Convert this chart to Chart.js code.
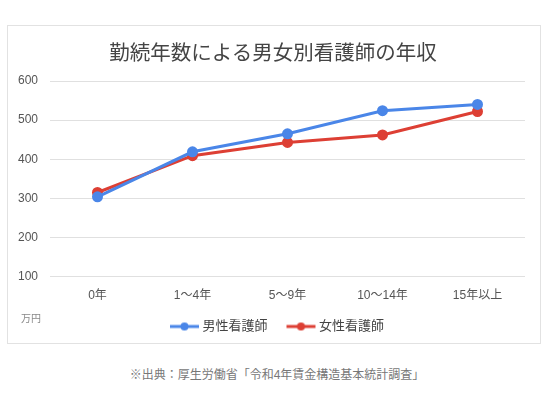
<!DOCTYPE html>
<html lang="ja">
<head>
<meta charset="utf-8">
<script src="https://cdn.jsdelivr.net/npm/chart.js@4"></script>
<style>
  body { margin: 0; background: #fff; font-family: "Liberation Sans", "Noto Sans CJK JP", sans-serif; }
  #card { position: absolute; left: 7px; top: 25px; width: 532px; height: 317px; border: 1px solid #e2e2e2; }
  #wrap { position: absolute; left: 0; top: 0; width: 532px; height: 317px; }
  #title { position: absolute; left: 0; width: 530px; top: 10px; text-align: center; font-size: 20.5px; color: #444; }
  #unit { position: absolute; left: 13px; top: 284px; font-size: 10px; color: #888; }
  #source { position: absolute; left: 0; width: 554px; top: 365px; text-align: center; font-size: 12px; color: #777; }
</style>
</head>
<body>
<div id="card">
  <div id="wrap"><canvas id="chart"></canvas></div>
  <div id="title">勤続年数による男女別看護師の年収</div>
  <div id="unit">万円</div>
</div>
<div id="source">※出典：厚生労働省「令和4年賃金構造基本統計調査」</div>
<script>
const categories = ["0年", "1〜4年", "5〜9年", "10〜14年", "15年以上"];
const maleValues = [304, 419, 465, 524, 540];
const femaleValues = [315, 409, 443, 462, 522];
const yTicks = [100, 200, 300, 400, 500, 600];

const blue = "#4a86e8";
const red = "#dd3f34";

// legend marker: short line with a dot, drawn toward the right of the image
function legendMarker(color) {
  const c = document.createElement("canvas");
  c.width = 52;
  c.height = 10;
  const g = c.getContext("2d");
  g.strokeStyle = color;
  g.lineWidth = 3;
  g.beginPath();
  g.moveTo(20, 5);
  g.lineTo(49, 5);
  g.stroke();
  g.fillStyle = color;
  g.beginPath();
  g.arc(34.5, 5, 4, 0, Math.PI * 2);
  g.fill();
  return c;
}

const markers = [legendMarker(blue), legendMarker(red)];
const fontFamily = "'Liberation Sans', 'Noto Sans CJK JP', sans-serif";

new Chart(document.getElementById("chart"), {
  type: "line",
  data: {
    labels: categories,
    datasets: [
      {
        label: "男性看護師",
        data: maleValues,
        borderColor: blue,
        backgroundColor: blue,
        borderWidth: 3,
        pointRadius: 4,
        pointHoverRadius: 4,
        tension: 0
      },
      {
        label: "女性看護師",
        data: femaleValues,
        borderColor: red,
        backgroundColor: red,
        borderWidth: 3,
        pointRadius: 4,
        pointHoverRadius: 4,
        tension: 0
      }
    ]
  },
  options: {
    responsive: true,
    maintainAspectRatio: false,
    animation: false,
    layout: { padding: { top: 55, left: 7, right: 15, bottom: 0 } },
    plugins: {
      title: { display: false },
      tooltip: { enabled: false },
      legend: {
        position: "bottom",
        labels: {
          usePointStyle: true,
          pointStyleWidth: 40,
          padding: 5,
          color: "#444",
          font: { size: 13, family: fontFamily },
          generateLabels: (chart) => {
            const items = Chart.defaults.plugins.legend.labels.generateLabels(chart);
            items.forEach((item, i) => { item.pointStyle = markers[i]; });
            return items;
          }
        }
      }
    },
    scales: {
      x: {
        offset: true,
        grid: { display: false, drawTicks: false },
        border: { display: false },
        ticks: {
          padding: 12,
          color: "#555",
          font: { size: 12, family: fontFamily }
        }
      },
      y: {
        min: 100,
        max: 600,
        afterBuildTicks: (axis) => { axis.ticks = yTicks.map(v => ({ value: v })); },
        afterFit: (axis) => { axis.width = 35; },
        grid: { color: "#e0e0e0", drawTicks: false },
        border: { display: false },
        ticks: {
          padding: 12,
          color: "#555",
          font: { size: 12, family: fontFamily }
        }
      }
    }
  }
});
</script>
</body>
</html>
